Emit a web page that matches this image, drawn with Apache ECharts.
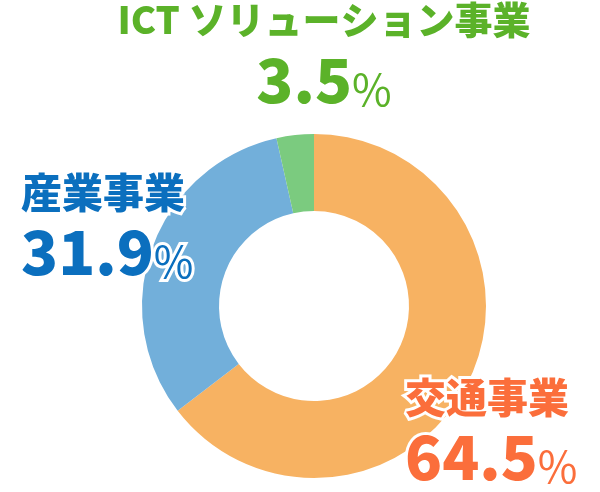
<!DOCTYPE html>
<html>
<head>
<meta charset="utf-8">
<script src="https://cdn.jsdelivr.net/npm/echarts@6/dist/echarts.min.js"></script>
<style>html,body{margin:0;padding:0;background:#fff}#c{width:600px;height:492px}</style>
</head>
<body>
<div id="c"></div>
<script>
const categories = ['交通事業', '産業事業', 'ICT ソリューション事業'];
const values = [64.5, 31.9, 3.5];
const sliceColors = ['#F7B262', '#72AFDA', '#7BCB7F'];
const textColors = ['#FB6E3B', '#0B6FBE', '#5BB229'];
const labelSpots = [
  { x: 405, y: 428, align: 'left', nameSize: 41 },
  { x: 21, y: 223, align: 'left', nameSize: 41 },
  { x: 324, y: 51, align: 'center', nameSize: 38 }
];

const chart = echarts.init(document.getElementById('c'), null, { renderer: 'canvas' });
const FONT = '"Noto Sans CJK JP", "Noto Sans", sans-serif';

function richFor(color, nameSize) {
  return {
    name: { fontFamily: FONT, fontWeight: 900, fontSize: nameSize, color: color, lineHeight: 58,
            textBorderColor: '#fff', textBorderWidth: 6 },
    val: { fontFamily: FONT, fontWeight: 900, fontSize: 61, color: color, lineHeight: 62,
           textBorderColor: '#fff', textBorderWidth: 6 },
    pct: { fontFamily: FONT, fontWeight: 'normal', fontSize: 43, color: color, lineHeight: 62,
           verticalAlign: 'bottom',
           textBorderColor: '#fff', textBorderWidth: 6 }
  };
}

const data = categories.map((n, i) => ({
  name: n,
  value: values[i],
  itemStyle: { color: sliceColors[i] },
  label: { rich: richFor(textColors[i], labelSpots[i].nameSize), align: labelSpots[i].align }
}));

chart.setOption({
  animation: false,
  series: [{
    type: 'pie',
    center: [314, 306],
    radius: [95, 172],
    startAngle: 90,
    clockwise: true,
    avoidLabelOverlap: false,
    labelLine: { show: false },
    itemStyle: { borderWidth: 0 },
    label: {
      show: true,
      position: 'outside',
      formatter: p => '{name|' + p.name + '}\n{val|' + p.value.toFixed(1) + '}{pct|%}'
    },
    labelLayout: p => {
      const s = labelSpots[p.dataIndex];
      return { x: s.x, y: s.y, align: s.align, verticalAlign: 'middle', hideOverlap: false, moveOverlap: false };
    },
    data: data
  }]
});
</script>
</body>
</html>
